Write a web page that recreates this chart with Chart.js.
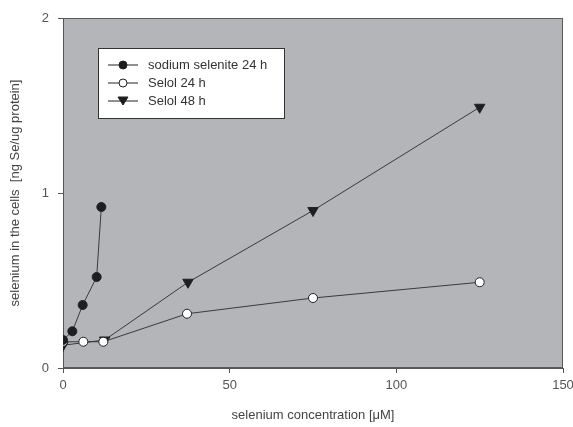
<!DOCTYPE html>
<html>
<head>
<meta charset="utf-8">
<script src="https://cdn.jsdelivr.net/npm/chart.js@4/dist/chart.umd.min.js"></script>
<style>
html,body{margin:0;padding:0;background:#fff}
#wrap{width:573px;height:427px}
</style>
</head>
<body>
<div id="wrap"><canvas id="c" width="573" height="427"></canvas></div>
<script>

/* data */
let seriesNames = ["sodium selenite 24 h","Selol 24 h","Selol 48 h"]

let seleniteX = [0,2.8,5.9,10.1,11.5]
let seleniteY = [0.16,0.21,0.36,0.52,0.92]

let selol24X = [0,6.1,12.1,37.2,75,125]
let selol24Y = [0.15,0.15,0.15,0.31,0.40,0.49]

let selol48X = [0,12.5,37.5,75,125]
let selol48Y = [0.13,0.16,0.49,0.90,1.49]

let xTicks = [0,50,100,150]
let yTicks = [0,1,2]

function pts(xs,ys){
return xs.map((x,i)=>({x:x,y:ys[i]}))
}

/* gray plot area + border */
const plotBg = {
id:"plotBg",
beforeDraw(chart){
let a = chart.chartArea
let ctx = chart.ctx
ctx.save()
ctx.fillStyle = "#b4b5b9"
ctx.fillRect(a.left,a.top,a.right-a.left,a.bottom-a.top)
ctx.strokeStyle = "#5a5a5a"
ctx.lineWidth = 1
ctx.strokeRect(a.left+0.5,a.top+0.5,a.right-a.left-1,a.bottom-a.top-1)
ctx.restore()
}
}

/* legend box drawn inside the plot */
const boxLegend = {
id:"boxLegend",
afterDraw(chart){
let a = chart.chartArea
let ctx = chart.ctx
let x0 = a.left+35, y0 = a.top+30
ctx.save()
ctx.fillStyle = "#fff"
ctx.fillRect(x0,y0,186,70)
ctx.strokeStyle = "#333"
ctx.lineWidth = 1
ctx.strokeRect(x0+0.5,y0+0.5,186,70)
ctx.font = "13px 'Liberation Sans', Arial, sans-serif"
ctx.textBaseline = "middle"
chart.data.datasets.forEach((ds,i)=>{
let y = y0+17+i*18
ctx.strokeStyle = "#222"
ctx.beginPath()
ctx.moveTo(x0+10,y)
ctx.lineTo(x0+40,y)
ctx.stroke()
ctx.fillStyle = ds.pointBackgroundColor
ctx.beginPath()
if(ds.pointStyle==="circle"){
ctx.arc(x0+25,y,4,0,Math.PI*2)
}else{
ctx.moveTo(x0+20,y-4)
ctx.lineTo(x0+30,y-4)
ctx.lineTo(x0+25,y+4)
ctx.closePath()
}
ctx.fill()
ctx.stroke()
ctx.fillStyle = "#333"
ctx.fillText(ds.label,x0+50,y)
})
ctx.restore()
}
}

let common = {
showLine:true,
borderColor:"#3a3a3a",
borderWidth:1,
pointBorderColor:"#222",
pointBorderWidth:1
}

let chart = new Chart(document.getElementById("c"),{
type:"scatter",
data:{
datasets:[
Object.assign({
label:seriesNames[0],
data:pts(seleniteX,seleniteY),
pointStyle:"circle",
pointRadius:4.5,
pointBackgroundColor:"#1e1e1e"
},common),
Object.assign({
label:seriesNames[1],
data:pts(selol24X,selol24Y),
pointStyle:"circle",
pointRadius:4.5,
pointBackgroundColor:"#ffffff"
},common),
Object.assign({
label:seriesNames[2],
data:pts(selol48X,selol48Y),
pointStyle:"triangle",
pointRotation:180,
pointRadius:6,
pointBackgroundColor:"#1e1e1e"
},common)
]
},
options:{
responsive:false,
animation:false,
layout:{padding:{top:18,right:10,left:4,bottom:0}},
plugins:{
legend:{display:false},
tooltip:{enabled:false}
},
scales:{
x:{
type:"linear",
min:0,max:150,
afterBuildTicks(s){ s.ticks = xTicks.map(v=>({value:v})) },
afterFit(s){ s.height = 59; s.paddingLeft = 0; s.paddingRight = 0 },
grid:{drawOnChartArea:false,drawTicks:true,tickLength:5,color:"#555"},
border:{color:"#555"},
ticks:{color:"#555",padding:5,font:{family:"'Liberation Sans', Arial, sans-serif",size:13}},
title:{display:true,text:"selenium concentration [μM]",color:"#444",padding:{top:3},
font:{family:"'Liberation Sans', Arial, sans-serif",size:13}}
},
y:{
type:"linear",
min:0,max:2,
afterBuildTicks(s){ s.ticks = yTicks.map(v=>({value:v})) },
afterFit(s){ s.width = 59 },
grid:{drawOnChartArea:false,drawTicks:true,tickLength:5,color:"#555"},
border:{color:"#555"},
ticks:{color:"#555",padding:9,font:{family:"'Liberation Sans', Arial, sans-serif",size:13}},
title:{display:true,text:"selenium in the cells  [ng Se/ug protein]",color:"#444",padding:{bottom:2},
font:{family:"'Liberation Sans', Arial, sans-serif",size:13}}
}
}
},
plugins:[plotBg,boxLegend]
})

</script>
</body>
</html>
